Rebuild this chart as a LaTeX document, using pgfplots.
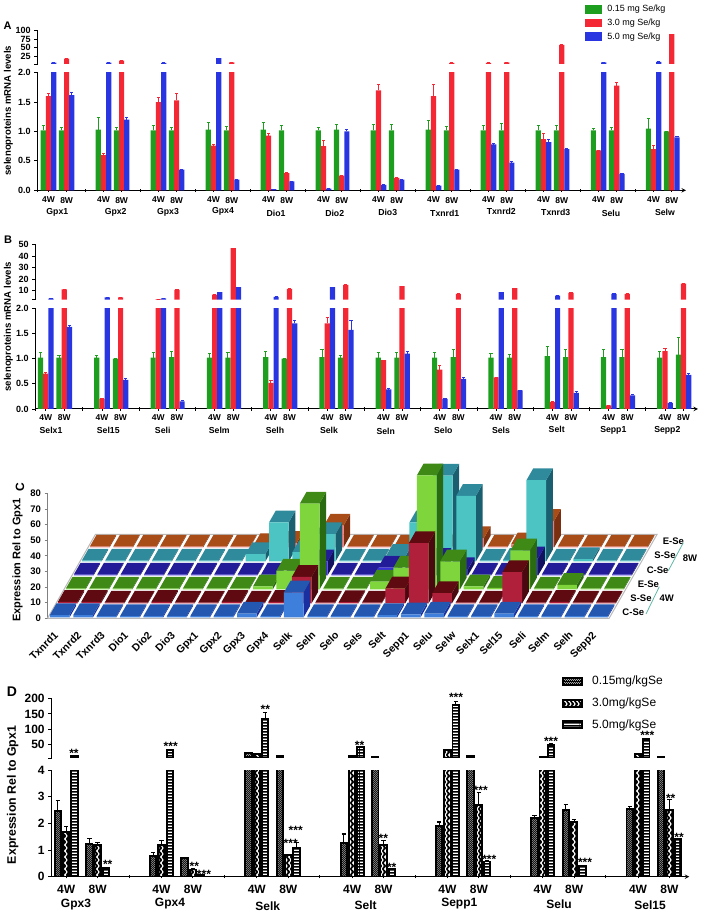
\documentclass[border=0pt]{standalone}
\usepackage{fontspec}
\setmainfont{Liberation Sans}
\usepackage{pgfplots}
\usepackage{pgfplotstable}
\pgfplotsset{compat=1.18}
\usetikzlibrary{patterns}
\definecolor{cg}{HTML}{1E9E1E}
\definecolor{cr}{HTML}{F42834}
\definecolor{cb}{HTML}{2A35E2}
\definecolor{HTMLb}{HTML}{2458B0}\definecolor{HTMLbf}{HTML}{3F7FDC}\definecolor{HTMLbs}{HTML}{1A2FA0}
\definecolor{HTMLr}{HTML}{5E0A10}\definecolor{HTMLrf}{HTML}{B0203A}\definecolor{HTMLrs}{HTML}{4A0810}
\definecolor{HTMLg}{HTML}{3F8A16}\definecolor{HTMLgf}{HTML}{7FD63C}\definecolor{HTMLgs}{HTML}{2A6A10}
\definecolor{HTMLi}{HTML}{231C98}\definecolor{HTMLif}{HTML}{3A2FD8}\definecolor{HTMLis}{HTML}{141060}
\definecolor{HTMLt}{HTML}{2F8A9C}\definecolor{HTMLtf}{HTML}{4CC4C4}\definecolor{HTMLts}{HTML}{1A5F70}
\definecolor{HTMLo}{HTML}{A84C18}\definecolor{HTMLof}{HTML}{F07878}\definecolor{HTMLos}{HTML}{7A3010}
\definecolor{HTMLline}{HTML}{5FB8A8}
\newcommand\fs[1]{\fontsize{#1}{#1}\selectfont\bfseries}
\newcommand\fr[1]{\fontsize{#1}{#1}\selectfont}
\newcommand\lbl[4][]{\node[inner sep=0pt,#1] at ({#2*1pt},{(917-#3)*1pt}) {#4};}
% patterns
\pgfdeclarepatternformonly{pdots}{\pgfqpoint{0pt}{0pt}}{\pgfqpoint{2.4pt}{2.4pt}}{\pgfqpoint{2.4pt}{2.4pt}}{%
  \pgfpathrectangle{\pgfqpoint{0pt}{0pt}}{\pgfqpoint{0.9pt}{0.9pt}}%
  \pgfpathrectangle{\pgfqpoint{1.2pt}{1.2pt}}{\pgfqpoint{0.9pt}{0.9pt}}\pgfusepath{fill}}
\pgfdeclarepatternformonly{pzig}{\pgfqpoint{-1pt}{-1pt}}{\pgfqpoint{5pt}{7pt}}{\pgfqpoint{4pt}{6pt}}{%
  \pgfsetlinewidth{1.1pt}\pgfpathmoveto{\pgfqpoint{1pt}{-1pt}}\pgfpathlineto{\pgfqpoint{1pt}{0pt}}%
  \pgfpathlineto{\pgfqpoint{3pt}{3pt}}\pgfpathlineto{\pgfqpoint{1pt}{6pt}}\pgfpathlineto{\pgfqpoint{1pt}{7pt}}\pgfusepath{stroke}}
\pgfdeclarepatternformonly{phl}{\pgfqpoint{0pt}{0pt}}{\pgfqpoint{20pt}{3pt}}{\pgfqpoint{20pt}{3pt}}{%
  \pgfpathrectangle{\pgfqpoint{0pt}{0pt}}{\pgfqpoint{20pt}{1.8pt}}\pgfusepath{fill}}
\tikzset{
 dA/.style={preaction={fill=black},draw=black,line width=1.9pt,pattern=pdots,pattern color=white},
 dB/.style={preaction={fill=black},draw=black,line width=1.9pt,pattern=pzig,pattern color=white},
 dC/.style={preaction={fill=black},draw=black,line width=1.9pt,pattern=phl,pattern color=white}}
\pgfplotsset{
 brk/.style={scale only axis,axis y line=left,axis line style={-,line width=1pt,black},
   tick style={black,line width=.9pt},major tick length=3.5pt,tick align=outside,ymajorgrids=false,clip=true},
 low/.style={axis x line=bottom},
 up/.style={axis x line=none},
 barA/.style={ybar,bar width=5.2pt,bar shift=0pt,fill=#1,draw=none,forget plot,
   error bars/.cd,y dir=plus,y explicit,error bar style={color=#1,line width=1pt},
   error mark options={rotate=90,mark size=1.6pt,color=#1,line width=1pt}},
 barD/.style={ybar,bar width=6.4pt,bar shift=0pt,#1,forget plot,
   error bars/.cd,y dir=plus,y explicit,error bar style={color=black,line width=1.2pt},
   error mark options={rotate=90,mark size=2.2pt,color=black,line width=1.2pt}},
}
\newcommand\threebars[2]{% table, one bar's width in x units
 \addplot[barA=cg] table[x expr=\thisrow{x}-#2,y=g,y error=ge] {#1};
 \addplot[barA=cr] table[x=x,y=r,y error=re] {#1};
 \addplot[barA=cb] table[x expr=\thisrow{x}+#2,y=b,y error=be] {#1};
}
\newcommand\threeD[1]{%
 \addplot[barD=dA] table[x expr=\thisrow{x}-0.0871,y=g,y error=ge] {#1};
 \addplot[barD=dB] table[x=x,y=r,y error=re] {#1};
 \addplot[barD=dC] table[x expr=\thisrow{x}+0.0871,y=b,y error=be] {#1};
}
\pgfplotstableread{
x g ge r re b be
0 1.02 0.08 1.6 0.04 6 0
0.33 1.02 0.05 18 0 1.62 0.05
1 1.03 0.2 0.6 0.03 6 0
1.33 1.02 0.05 12 0 1.2 0.03
2 1.02 0.08 1.5 0.08 5 0
2.33 1.02 0.05 1.53 0.12 0.35 0.01
3 1.03 0.13 0.76 0.02 19 0
3.33 1.02 0.07 7 0 0.18 0.01
4 1.03 0.13 0.93 0.03 0.02 0
4.33 1.02 0.09 0.29 0.01 0.15 0
5 1.02 0.05 0.75 0.1 0.03 0
5.33 1.03 0.09 0.25 0 1.0 0.04
6 1.02 0.1 1.7 0.1 0.09 0
6.33 1.02 0.1 0.21 0 0.18 0.01
7 1.03 0.16 1.6 0.2 0.08 0
7.33 1.02 0.06 5 0 0.35 0
8 1.02 0.08 5 0 0.78 0.01
8.33 1.02 0.12 7 0 0.47 0.02
9 1.02 0.09 0.87 0.1 0.82 0.04
9.33 1.02 0.08 58 0 0.7 0.01
10 1.02 0.03 0.68 0 7 0
10.33 1.02 0.05 1.78 0.06 0.28 0
11 1.05 0.17 0.7 0.07 8 0
11.33 1.0 0 90 0 0.9 0.02
}\tabA
\pgfplotstableread{
x g ge r re b be
0 1.02 0.11 0.7 0.03 3 0
0.33 1.02 0.04 11 0 1.63 0.02
1 1.02 0.05 0.2 0.01 4 0
1.33 1.0 0.01 4 0 0.58 0.02
2 1.02 0.1 2.6 0 3.2 0
2.33 1.03 0.12 10.5 0 0.15 0.02
3 1.02 0.08 6.4 0 8.5 0
3.33 1.02 0.1 47 0 13 0
4 1.03 0.12 0.52 0.05 4.4 0
4.33 1.0 0.01 11.4 0 1.7 0.05
5 1.03 0.15 1.7 0.11 13 0
5.33 1.02 0.05 15 0 1.57 0.18
6 1.02 0.1 0.97 0 0.39 0.01
6.33 1.02 0.1 13.8 0 1.1 0.05
7 1.02 0.1 0.78 0.08 0.2 0
7.33 1.03 0.15 7 0 0.6 0.03
8 1.02 0.08 0.63 0 8.5 0
8.33 1.02 0.07 12 0 0.37 0
9 1.05 0.2 0.14 0 5.5 0
9.33 1.03 0.15 8 0 0.32 0.02
10 1.03 0.15 0.07 0 7 0
10.33 1.03 0.15 7 0 0.27 0.02
11 1.02 0.12 1.15 0.05 0.12 0
11.33 1.08 0.33 16 0 0.68 0.03
}\tabB
\pgfplotstableread{
x g ge r re b be
0 2.47 0.38 1.67 0.2 11.6 0
0.33 1.23 0.2 1.2 0.07 0.32 0.02
1 0.78 0.13 1.2 0.17 31 0
1.33 0.7 0.03 0.27 0.03 0.06 0
2 20 0 17 0 135 20
2.33 12 0 0.82 0 1.07 0.2
3 1.25 0.35 12 0 40 0
3.33 10 0 1.2 0.15 0.28 0
4 1.9 0.15 31 0 180 10
4.33 13 0 2.7 0.45 0.57 0.05
5 2.2 0.1 10 0 48 3
5.33 2.5 0.2 2.05 0.1 0.42 0
6 2.55 0.08 18 0 66 2
6.33 10 0 2.5 0.4 1.4 0.03
}\tabD
% panel C heights (front row to back row), one value per gene
\def\rowZ{1.5,1.5,.8,.8,.8,.8,.8,.8,2.5,.8,16,.8,.8,.8,1.5,2,2.5,.8,.8,2.5,.8,.8,.8,.8}
\def\rowO{1,1,.5,.5,1,.5,.5,1,.5,1,17,.5,.8,.5,9.6,38.6,6.6,.5,.5,20,.5,1,.5,.5}
\def\rowT{.6,.6,.6,.6,.6,.6,.6,.6,2,12,55,.6,.6,5,14,73,18,2,1,25,.6,3,.6,.6}
\def\rowH{.6,.6,.6,.6,.6,.6,.6,.6,.6,.6,9,.6,.6,5,.6,10,4,.6,.6,11,.6,.6,.6,.6}
\def\rowF{.6,.6,.6,.6,.6,.6,.6,4.7,25,6,17.5,.6,.6,3.6,25,55,42,.6,1,52,.6,1.5,.6,.6}
\def\rowV{.6,.6,.6,.6,.6,.6,.6,1.5,3,1,14,.6,.6,.6,.6,.6,6,.6,2,17,.6,.6,.6,.6}
\newcommand\rowplot[5]{%
 \gdef\cS{}\gdef\cT{}\gdef\cF{}%
 \foreach \h [count=\n from 0] in #2 {%
  \pgfmathsetmacro\xa{\n+.08}\pgfmathsetmacro\xb{\n+.92}%
  \pgfmathsetmacro\ya{#1+.06}\pgfmathsetmacro\yb{#1+.9}%
  \xdef\cS{\cS (\xb,\ya,0)(\xb,\yb,0)(\xb,\yb,\h)(\xb,\ya,\h)(nan,nan,nan)}%
  \xdef\cT{\cT (\xa,\ya,\h)(\xb,\ya,\h)(\xb,\yb,\h)(\xa,\yb,\h)(nan,nan,nan)}%
  \xdef\cF{\cF (\xa,\ya,0)(\xb,\ya,0)(\xb,\ya,\h)(\xa,\ya,\h)(nan,nan,nan)}%
 }%
 \edef\tmp{\noexpand\addplot3[fill=#5,draw=none,no marks,forget plot,unbounded coords=jump] coordinates {\cS};
  \noexpand\addplot3[fill=#3,draw=none,no marks,forget plot,unbounded coords=jump] coordinates {\cT};
  \noexpand\addplot3[fill=#4,draw=none,no marks,forget plot,unbounded coords=jump] coordinates {\cF};}\tmp
}
\begin{document}
\begin{tikzpicture}
\useasboundingbox (0,0) rectangle (702pt,917pt);
% ---------- A
\begin{axis}[brk,low,at={(37.7pt,726.7pt)},anchor=south west,width=648.3pt,height=117.6pt,
 xmin=-0.196,xmax=11.59,ymin=0,ymax=2,
 ytick={0,0.5,1,1.5,2},yticklabels={0.0,0.5,1.0,1.5,2.0},
 xtick={0,0.33,1,1.33,2,2.33,3,3.33,4,4.33,5,5.33,6,6.33,7,7.33,8,8.33,9,9.33,10,10.33,11,11.33},
 xticklabels={4W,8W,4W,8W,4W,8W,4W,8W,4W,8W,4W,8W,4W,8W,4W,8W,4W,8W,4W,8W,4W,8W,4W,8W},
 extra x ticks={-0.196,0.67,1.67,2.67,3.67,4.67,5.67,6.67,7.67,8.67,9.67,10.67},extra x tick labels={},
 xticklabel style={font=\fs{8.5},yshift=-1.5pt},yticklabel style={font=\fs{9}}]
\threebars{\tabA}{0.0945}
\end{axis}
\begin{axis}[brk,up,at={(37.7pt,853pt)},anchor=south west,width=648.3pt,height=33.3pt,
 xmin=-0.196,xmax=11.59,ymin=2,ymax=100,restrict y to domain=2:1000,
 ytick={2,25,50,75,100},yticklabels={,25,50,75,100},yticklabel style={font=\fs{9}},
 legend style={at={(0.844,1.83)},anchor=north west,draw=none,fill=none,font=\fr{9},row sep=1.6pt,inner sep=0pt},
 legend cell align=left]
\threebars{\tabA}{0.0945}
\addlegendimage{legend image code/.code={\fill[cg] (0pt,-3.8pt) rectangle (16pt,3.8pt);\path (20pt,0pt);}}
\addlegendentry{0.15 mg Se/kg}
\addlegendimage{legend image code/.code={\fill[cr] (0pt,-3.8pt) rectangle (16pt,3.8pt);\path (20pt,0pt);}}
\addlegendentry{3.0 mg Se/kg}
\addlegendimage{legend image code/.code={\fill[cb] (0pt,-3.8pt) rectangle (16pt,3.8pt);\path (20pt,0pt);}}
\addlegendentry{5.0 mg Se/kg}
\end{axis}
% ---------- B
\begin{axis}[brk,low,at={(35.7pt,508pt)},anchor=south west,width=662.3pt,height=100.7pt,
 xmin=-0.178,xmax=11.586,ymin=0,ymax=2,
 ytick={0,0.5,1,1.5,2},yticklabels={0.0,0.5,1.0,1.5,2.0},
 xtick={0,0.33,1,1.33,2,2.33,3,3.33,4,4.33,5,5.33,6,6.33,7,7.33,8,8.33,9,9.33,10,10.33,11,11.33},
 xticklabels={4W,8W,4W,8W,4W,8W,4W,8W,4W,8W,4W,8W,4W,8W,4W,8W,4W,8W,4W,8W,4W,8W,4W,8W},
 extra x ticks={-0.178,0.66,1.66,2.66,3.66,4.66,5.66,6.66,7.66,8.66,9.66,10.66},extra x tick labels={},
 xticklabel style={font=\fs{8.5},yshift=0pt},yticklabel style={font=\fs{9}}]
\threebars{\tabB}{0.0924}
\end{axis}
\begin{axis}[brk,up,at={(35.7pt,617.3pt)},anchor=south west,width=662.3pt,height=55pt,
 xmin=-0.178,xmax=11.586,ymin=2,ymax=50,restrict y to domain=2:1000,
 ytick={2,10,20,30,40,50},yticklabels={,10,20,30,40,50},yticklabel style={font=\fs{9}}]
\threebars{\tabB}{0.0924}
\end{axis}
% ---------- C
\begin{axis}[scale only axis,at={(47.5pt,298.7pt)},anchor=south west,width=561.6pt,height=125pt,
 axis y line=left,axis x line=bottom,xmin=0,xmax=24,ymin=0,ymax=80,
 axis line style={-},x axis line style={draw=none},y axis line style={gray,line width=.8pt},
 ytick={0,10,...,80},yticklabel style={font=\fs{9.5},/pgf/number format/assume math mode=true},
 tick align=outside,y tick style={gray,line width=.6pt},major tick length=3pt,
 x tick style={draw=none},
 xtick={0.5,1.5,...,23.5},
 xticklabels={Txnrd1,Txnrd2,Txnrd3,Dio1,Dio2,Dio3,Gpx1,Gpx2,Gpx3,Gpx4,Selk,Seln,Selo,Sels,Selt,Sepp1,Selu,Selw,Selx1,Sel15,Seli,Selm,Selh,Sepp2},
 xticklabel style={font=\fs{10.5},rotate=45,anchor=north east,inner sep=0pt,yshift=-2.3pt,xshift=-10.7pt}]
\addplot[draw=none,forget plot] coordinates {(0,0)(24,0)};
\end{axis}
\begin{axis}[x={(23.4pt,0pt)},y={(8pt,14pt)},z={(0pt,1.5625pt)},xmin=0,xmax=24,ymin=0,ymax=6,zmin=0,zmax=80,
 hide axis,clip=false,at={(47.5pt,298.7pt)},anchor=origin]
\addplot3[draw=gray!55,line width=1pt,no marks,forget plot] coordinates {(0,0,0)(24,0,0)(24,6,0)(0,6,0)(0,0,0)};
\rowplot{5}{\rowV}{HTMLo}{HTMLof}{HTMLos}
\rowplot{4}{\rowF}{HTMLt}{HTMLtf}{HTMLts}
\rowplot{3}{\rowH}{HTMLi}{HTMLif}{HTMLis}
\rowplot{2}{\rowT}{HTMLg}{HTMLgf}{HTMLgs}
\rowplot{1}{\rowO}{HTMLr}{HTMLrf}{HTMLrs}
\rowplot{0}{\rowZ}{HTMLb}{HTMLbf}{HTMLbs}
\end{axis}
% ---------- D
\begin{axis}[brk,low,at={(51.7pt,40.3pt)},anchor=south west,width=637.6pt,height=106.7pt,
 xmin=-0.152,xmax=6.538,ymin=0,ymax=4,
 ytick={0,1,2,3,4},yticklabels={0,1,2,3,4},
 xtick={0,0.33,1,1.33,2,2.33,3,3.33,4,4.33,5,5.33,6,6.33},
 xticklabels={4W,8W,4W,8W,4W,8W,4W,8W,4W,8W,4W,8W,4W,8W},
 extra x ticks={0.66,1.66,2.66,3.66,4.66,5.66},extra x tick labels={},
 xticklabel style={font=\fs{12},yshift=-3pt},yticklabel style={font=\fs{12}}]
\threeD{\tabD}
\end{axis}
\begin{axis}[brk,up,at={(51.7pt,159pt)},anchor=south west,width=637.6pt,height=59.3pt,
 xmin=-0.152,xmax=6.538,ymin=5,ymax=200,restrict y to domain=5:1000,
 ytick={5,50,100,150,200},yticklabels={,50,100,150,200},yticklabel style={font=\fs{12}},
 legend style={at={(0.8,1.416)},anchor=north west,draw=none,fill=none,font=\fr{12},row sep=7.6pt,inner sep=0pt},
 legend cell align=left]
\threeD{\tabD}
\addlegendimage{legend image code/.code={\path[dA] (0pt,-3.5pt) rectangle (19pt,3.5pt);\path (27pt,0pt);}}
\addlegendentry{0.15mg/kgSe}
\addlegendimage{legend image code/.code={\path[dB] (0pt,-3.5pt) rectangle (19pt,3.5pt);\path (27pt,0pt);}}
\addlegendentry{3.0mg/kgSe}
\addlegendimage{legend image code/.code={\path[dC] (0pt,-3.5pt) rectangle (19pt,3.5pt);\path (27pt,0pt);}}
\addlegendentry{5.0mg/kgSe}
\end{axis}
% ---------- texts
\lbl{7.5}{26}{\fs{11}A}
\lbl{8}{240}{\fs{11}B}
\lbl{12}{692}{\fs{14}D}
\lbl[rotate=90]{8.3}{110.7}{\fs{9.6}selenoproteins mRNA levels}
\lbl[rotate=90]{8.3}{326.7}{\fs{9.6}selenoproteins mRNA levels}
\lbl[rotate=90]{17.5}{560}{\fs{11}Expression Rel to Gpx1}
\lbl[rotate=90]{20}{487}{\fs{12}C}
\lbl[rotate=90]{12.7}{795}{\fs{12.3}Expression Rel to Gpx1}
\foreach \t/\x/\y in {Gpx1/57.3/212,Gpx2/115.7/212,Gpx3/168/212,Gpx4/223/211.7,Dio1/276/213,Dio2/334.7/213,Dio3/387.7/212,Txnrd1/444.7/213,Txnrd2/501.3/211,Txnrd3/555.7/212,Selu/611/213,Selw/665/212.7,
 Selx1/51/430,Sel15/108.3/430,Seli/162.7/430,Selm/219.3/430,Selh/275/430,Selk/329/430,Seln/385.7/431.7,Selo/443.3/430,Sels/501/430.3,Selt/556.7/429.3,Sepp1/613.3/430,Sepp2/667.3/430}
 {\lbl{\x}{\y}{\fs{8.7}\t}}
\foreach \t/\x/\y in {Gpx3/76/904.3,Gpx4/170/904,Selk/267.7/906,Selt/365.7/905,Sepp1/459.3/904,Selu/559/904.7,Sel15/650/905.3}
 {\lbl{\x}{\y}{\fs{12}\t}}
\foreach \t/\x/\y in {E-Se/673.3/541.7,S-Se/665/555.3,C-Se/657.7/570,E-Se/648.3/584,S-Se/641/598.3,C-Se/633.3/612.3}
 {\lbl{\x}{\y}{\fs{9.5}\t}}
\lbl{690}{558}{\fs{9.5}8W}
\lbl{666.7}{598.3}{\fs{9.5}4W}
\draw[HTMLline,line width=.8pt] ({683.3*1pt},{(917-542.7)*1pt}) -- ({668.3*1pt},{(917-570.7)*1pt});
\draw[HTMLline,line width=.8pt] ({659.3*1pt},{(917-586.7)*1pt}) -- ({646*1pt},{(917-614)*1pt});
\foreach \t/\x/\y in {**/74/752,***/170.7/745.5,**/265.3/708,**/359.5/744.5,***/456/696,***/551/740.3,***/647.3/734,
 **/107.7/863,**/194.3/865,***/204/873.5,***/290.7/842.5,***/295.7/829,**/383.3/837,**/391.7/866.3,***/480.7/789.3,***/489.3/858,***/585/861,**/670.7/797.7,**/679/836}
 {\lbl[yshift=-1pt]{\x}{\y}{\fs{12}\t}}
\end{tikzpicture}
\end{document}
